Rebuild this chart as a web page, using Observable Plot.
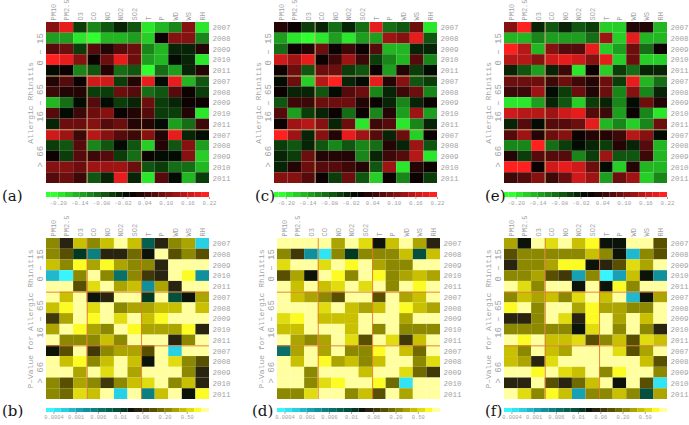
<!DOCTYPE html>
<html><head><meta charset="utf-8">
<script src="https://cdn.jsdelivr.net/npm/d3@7"></script>
<script src="https://cdn.jsdelivr.net/npm/@observablehq/plot@0.6"></script>
<style>
body{margin:0;background:#fff;}
#root{position:relative;width:689px;height:425px;overflow:hidden;background:#fff;}
.blk{position:absolute;}
.tag{position:absolute;font-family:"DejaVu Serif","Liberation Serif",serif;font-size:15px;line-height:1;color:#151515;}
</style></head><body><div id="root"></div>
<script>
// ---------- categories & tick labels ----------
const variables = ["PM10","PM2.5","O3","CO","NO","NO2","SO2","T","P","WD","WS","RH"];
const columnGroupStarts = ["CO","T"];
const ageGroups = ["0 \u2013 15","16 \u2013 65","> 66"];
const years = ["2007","2008","2009","2010","2011"];
const corrTicks = [-0.20,-0.14,-0.08,-0.02,0.04,0.10,0.16,0.22];
const pTickLabels = ["0.0004","0.001","0.006","0.01","0.06","0.20","0.50"];
const panelTags = ["(a)","(b)","(c)","(d)","(e)","(f)"];

// ---------- correlation values (rows: age group x year, cols: variables) ----------
const corrA = [
[0.11,0.19,-0.06,-0.12,-0.07,-0.04,-0.07,-0.20,-0.15,-0.12,0.10,-0.19],
[-0.13,-0.14,-0.20,-0.21,-0.15,-0.15,-0.13,-0.18,0.00,0.10,0.10,-0.12],
[0.07,0.09,-0.05,0.07,0.03,0.07,0.09,-0.12,-0.15,-0.04,-0.04,0.02],
[0.21,0.19,0.10,0.01,0.09,0.18,0.09,-0.14,-0.15,-0.02,-0.04,-0.20],
[-0.02,0.01,-0.12,-0.07,0.02,-0.10,-0.07,-0.21,-0.09,-0.14,-0.03,0.02],
[0.03,0.06,0.01,0.16,0.16,-0.05,0.03,0.19,-0.02,0.19,-0.15,-0.08],
[0.05,0.03,0.03,-0.06,-0.05,0.09,0.07,-0.09,-0.07,0.06,0.01,-0.06],
[-0.15,-0.09,-0.02,0.07,-0.02,-0.06,-0.03,0.08,-0.06,-0.04,0.01,0.01],
[0.07,-0.02,0.04,0.08,0.10,0.01,0.03,0.07,-0.06,-0.06,0.03,-0.19],
[-0.03,0.09,0.09,0.10,0.07,0.09,0.02,0.03,-0.02,-0.14,-0.09,0.04],
[0.17,0.12,0.04,0.14,0.10,0.06,0.05,0.11,0.03,0.19,-0.04,-0.01],
[-0.05,-0.07,0.06,-0.12,-0.08,-0.02,-0.07,-0.18,0.03,-0.07,0.10,-0.13],
[0.01,-0.05,0.07,0.04,0.06,-0.05,-0.10,0.01,-0.02,-0.02,0.11,-0.17],
[0.10,0.11,0.08,0.12,0.13,0.12,0.08,-0.07,-0.06,-0.09,-0.10,-0.16],
[0.06,0.08,0.05,-0.07,-0.03,0.19,-0.04,-0.20,0.06,-0.02,-0.16,-0.05]
];
const corrC = [
[0.03,0.01,-0.06,-0.03,-0.10,-0.04,-0.10,0.19,-0.10,-0.07,0.09,-0.20],
[-0.14,-0.20,-0.21,-0.19,-0.14,-0.19,-0.14,-0.14,0.12,0.10,0.19,-0.08],
[-0.09,0.01,0.03,0.08,0.01,0.05,0.01,0.07,-0.15,-0.15,-0.03,-0.03],
[0.17,0.12,0.19,0.01,0.05,0.13,0.05,-0.06,-0.11,-0.15,0.06,-0.12],
[0.01,0.08,-0.08,0.09,0.08,-0.06,-0.08,0.01,-0.14,0.02,-0.06,-0.02],
[-0.02,0.09,-0.17,0.15,0.20,-0.04,-0.02,0.19,0.03,0.10,-0.08,-0.05],
[0.01,-0.03,-0.03,-0.07,-0.02,0.07,0.09,-0.12,-0.04,0.05,0.08,-0.11],
[-0.07,0.05,0.04,0.08,0.09,0.08,0.03,0.01,-0.03,-0.12,-0.03,0.01],
[0.07,-0.13,-0.05,-0.03,0.01,-0.10,0.01,-0.11,0.02,-0.14,0.13,-0.13],
[0.01,0.12,0.14,0.10,-0.03,0.09,-0.19,0.04,0.06,-0.20,-0.11,-0.03],
[0.21,0.13,-0.03,0.10,0.03,0.19,0.12,0.06,-0.03,0.09,-0.18,0.01],
[-0.05,-0.08,-0.03,-0.07,-0.11,-0.07,-0.12,-0.09,0.03,-0.04,0.13,-0.08],
[-0.04,-0.05,0.08,0.03,0.02,0.02,-0.11,-0.03,0.04,0.07,0.15,-0.19],
[-0.04,0.02,0.09,0.06,0.06,0.05,0.03,-0.07,0.12,-0.20,0.02,0.01],
[0.11,0.11,0.07,0.01,-0.05,0.09,-0.08,-0.17,0.01,-0.11,0.01,-0.05]
];
const corrE = [
[0.10,0.20,-0.03,-0.07,-0.04,-0.08,-0.06,-0.18,-0.18,0.02,0.03,-0.15],
[-0.15,-0.15,-0.12,-0.14,-0.13,-0.14,-0.09,0.13,-0.18,0.19,-0.15,-0.15],
[0.20,0.15,-0.15,0.10,0.06,0.06,0.19,-0.18,-0.14,0.08,-0.09,0.01],
[0.14,0.14,0.10,0.16,0.18,0.17,0.11,0.19,-0.18,0.08,-0.18,-0.17],
[-0.04,-0.08,-0.14,-0.03,0.04,-0.20,0.01,-0.17,-0.06,-0.10,-0.04,-0.04],
[0.09,0.08,0.08,0.04,0.09,0.04,0.03,0.08,-0.05,0.19,-0.16,-0.09],
[0.04,0.05,0.12,-0.01,-0.05,0.08,0.03,0.08,-0.11,0.10,-0.12,-0.04],
[-0.19,-0.19,-0.14,-0.04,-0.08,-0.18,-0.06,-0.04,-0.11,-0.01,0.09,0.03],
[0.16,0.15,0.15,0.12,0.16,0.18,0.07,0.04,-0.13,0.01,-0.12,-0.19],
[-0.03,0.07,-0.01,0.07,0.07,0.08,0.18,-0.15,-0.11,-0.18,-0.11,0.08],
[0.07,0.12,0.03,0.08,0.10,0.01,0.03,0.03,0.05,0.14,0.10,-0.02],
[-0.11,-0.12,0.20,-0.09,-0.05,-0.02,-0.04,-0.06,0.03,-0.03,0.07,-0.16],
[0.02,-0.05,0.06,0.07,0.07,-0.11,-0.06,0.12,-0.08,-0.07,0.04,-0.15],
[0.20,0.20,0.01,0.16,0.18,0.16,0.08,-0.02,-0.18,0.03,-0.15,-0.15],
[0.04,0.06,0.10,0.05,0.09,0.17,0.13,-0.14,0.08,0.12,-0.18,-0.11]
];

// ---------- p-values ----------
const pB = [
[0.2,0.04,0.4,0.22,0.45,0.9,0.4,0.007,0.04,0.2,0.3,0.0006],
[0.22,0.1,0.01,0.005,0.04,0.04,0.18,0.02,0.9,0.12,0.2,0.12],
[0.4,0.22,0.65,0.3,0.65,0.3,0.25,0.2,0.04,0.9,0.9,0.9],
[0.0008,0.0003,0.2,0.9,0.22,0.006,0.2,0.06,0.04,0.85,0.65,0.002],
[0.9,0.9,0.1,0.5,0.85,0.3,0.4,0.003,0.3,0.05,0.9,0.9],
[0.9,0.4,0.9,0.02,0.04,0.85,0.85,0.01,0.85,0.009,0.02,0.3],
[0.4,0.65,0.9,0.5,0.9,0.22,0.3,0.3,0.4,0.45,0.85,0.4],
[0.06,0.3,0.9,0.65,0.9,0.5,0.9,0.4,0.65,0.9,0.9,0.9],
[0.3,0.9,0.65,0.3,0.22,0.85,0.65,0.3,0.3,0.3,0.65,0.04],
[0.9,0.2,0.2,0.2,0.45,0.28,0.9,0.85,0.85,0.04,0.2,0.9],
[0.02,0.1,0.9,0.08,0.2,0.3,0.3,0.1,0.9,0.0006,0.9,0.9],
[0.9,0.4,0.65,0.22,0.4,0.85,0.4,0.02,0.85,0.5,0.2,0.1],
[0.9,0.9,0.3,0.9,0.5,0.85,0.3,0.9,0.9,0.9,0.2,0.05],
[0.2,0.12,0.3,0.2,0.07,0.22,0.4,0.5,0.85,0.25,0.4,0.05],
[0.2,0.18,0.5,0.45,0.85,0.0007,0.9,0.005,0.4,0.85,0.02,0.65]
];
const pD = [
[0.9,0.9,0.9,0.85,0.3,0.9,0.5,0.02,0.45,0.85,0.3,0.04],
[0.2,0.08,0.002,0.0005,0.2,0.015,0.2,0.22,0.2,0.4,0.009,0.4],
[0.5,0.9,0.9,0.5,0.9,0.65,0.9,0.3,0.22,0.2,0.9,0.9],
[0.12,0.3,0.03,0.9,0.65,0.22,0.9,0.65,0.28,0.3,0.4,0.3],
[0.9,0.45,0.9,0.45,0.5,0.9,0.5,0.9,0.2,0.9,0.65,0.9],
[0.9,0.4,0.3,0.2,0.12,0.9,0.9,0.12,0.9,0.3,0.45,0.9],
[0.9,0.9,0.9,0.5,0.9,0.45,0.3,0.4,0.9,0.65,0.4,0.3],
[0.5,0.65,0.9,0.45,0.45,0.4,0.9,0.9,0.9,0.3,0.9,0.9],
[0.4,0.4,0.9,0.9,0.9,0.45,0.9,0.22,0.9,0.2,0.2,0.2],
[0.9,0.3,0.2,0.3,0.9,0.5,0.1,0.9,0.5,0.06,0.4,0.9],
[0.006,0.3,0.9,0.3,0.9,0.2,0.28,0.65,0.9,0.45,0.15,0.9],
[0.9,0.4,0.9,0.65,0.3,0.45,0.22,0.4,0.9,0.9,0.2,0.5],
[0.9,0.9,0.22,0.9,0.9,0.9,0.4,0.9,0.9,0.5,0.15,0.06],
[0.9,0.9,0.22,0.5,0.65,0.9,0.9,0.65,0.18,0.0004,0.9,0.9],
[0.22,0.22,0.5,0.9,0.9,0.22,0.4,0.1,0.9,0.3,0.9,0.9]
];
const pF = [
[0.3,0.02,0.9,0.5,0.9,0.45,0.65,0.02,0.02,0.9,0.9,0.1],
[0.12,0.2,0.2,0.2,0.2,0.2,0.4,0.2,0.02,0.0008,0.2,0.1],
[0.04,0.2,0.2,0.3,0.65,0.65,0.03,0.04,0.1,0.5,0.3,0.9],
[0.2,0.2,0.3,0.12,0.06,0.001,0.2,0.0003,0.001,0.4,0.03,0.002],
[0.9,0.5,0.22,0.9,0.9,0.03,0.9,0.03,0.65,0.22,0.9,0.9],
[0.22,0.45,0.3,0.45,0.22,0.5,0.85,0.4,0.9,0.0008,0.03,0.3],
[0.65,0.9,0.22,0.9,0.9,0.3,0.65,0.3,0.3,0.25,0.25,0.9],
[0.04,0.04,0.22,0.9,0.5,0.04,0.65,0.9,0.3,0.9,0.4,0.9],
[0.2,0.2,0.2,0.22,0.2,0.03,0.5,0.9,0.2,0.9,0.22,0.05],
[0.9,0.65,0.9,0.45,0.4,0.5,0.1,0.22,0.4,0.12,0.5,0.4],
[0.45,0.22,0.9,0.45,0.3,0.9,0.9,0.9,0.5,0.1,0.3,0.9],
[0.45,0.3,0.04,0.5,0.9,0.9,0.9,0.9,0.9,0.9,0.45,0.1],
[0.9,0.9,0.65,0.9,0.5,0.4,0.9,0.2,0.65,0.9,0.9,0.22],
[0.05,0.05,0.9,0.1,0.04,0.18,0.45,0.9,0.02,0.9,0.1,0.0005],
[0.9,0.5,0.22,0.65,0.45,0.001,0.22,0.22,0.4,0.2,0.008,0.3]
];

// ---------- colour scales (discrete levels, as in the original colour bars) ----------
const corrDomain = [-0.2325, 0.22];
const corrThresholds = d3.range(-11, 11).map(k => +(k * 0.02).toFixed(2));
const corrRamp = d3.scaleLinear().domain([-0.21, 0, 0.21]).range(["#30ff30", "#000000", "#ff2020"]).clamp(true);
const corrEdges = [corrDomain[0], ...corrThresholds, corrDomain[1]];
const corrColors = corrEdges.slice(1).map((e, k) => corrRamp((e + corrEdges[k]) / 2));

const pThresholds = [0.0004,0.0006,0.0008,0.001,0.002,0.004,0.006,0.007,0.008,0.01,0.02,0.04,0.06,0.1,0.15,0.2,0.3,0.4,0.5,0.6,0.8];
const pColors = ["#38f4ff","#30e4f4","#28d0e4","#20b8cc","#18a0b4","#10909c","#0c8080","#087068","#066050","#04503c","#023824",
                 "#0c140a","#282410","#403808","#585000","#706a00","#8c8800","#aca400","#c8c000","#e0dc10","#fcfc24","#ffffa0"];

const FONT = "'Liberation Mono','DejaVu Sans Mono',monospace";
const GREY = "#a2a2a2";
const HEAT_W = 230, ML = 46, MR = 21, HEAT_H = 161;

function heatPlot(matrix, color, sepColor, mTop, yLabel) {
  const cells = [];
  matrix.forEach((row, i) => row.forEach((v, j) => cells.push({i, j, v})));
  const nR = matrix.length, nC = variables.length;
  return Plot.plot({
    width: HEAT_W, height: mTop + HEAT_H + 2,
    marginTop: mTop, marginBottom: 2, marginLeft: ML, marginRight: MR,
    x: {domain: [0, nC], axis: null},
    y: {domain: [nR, 0], axis: null},
    color,
    style: {fontFamily: FONT, fontSize: "7px", color: GREY, background: "transparent", overflow: "visible"},
    marks: [
      Plot.rect(cells, {x1: "j", x2: d => d.j + 1, y1: "i", y2: d => d.i + 1, fill: "v"}),
      Plot.ruleX(columnGroupStarts.map(c => variables.indexOf(c)), {stroke: sepColor, strokeWidth: 1, strokeOpacity: 0.9}),
      Plot.ruleY(d3.range(1, ageGroups.length).map(k => k * years.length), {stroke: sepColor, strokeWidth: 1, strokeOpacity: 0.9}),
      Plot.axisX({anchor: "top", label: null, ticks: d3.range(nC).map(j => j + 0.5), tickFormat: d => variables[Math.floor(d)],
                  tickRotate: -90, tickSize: 0, tickPadding: 2, fontSize: 7, fill: GREY}),
      Plot.axisY({anchor: "right", label: null, ticks: d3.range(nR).map(i => i + 0.5), tickFormat: d => years[Math.floor(d) % years.length],
                  tickSize: 0, tickPadding: 3, fontSize: 7.5, fill: GREY}),
      Plot.text(ageGroups, {frameAnchor: "left", textAnchor: "middle", y: (d, k) => (k + 0.5) * years.length, rotate: -90, dx: -6,
                            fontSize: 9, fill: GREY}),
      Plot.text([yLabel], {frameAnchor: "left", textAnchor: "middle", y: () => nR / 2, rotate: -90, dx: -16, fontSize: 8, fill: GREY})
    ]
  });
}

function corrBar() {
  const boxes = corrColors.map((c, k) => ({x1: corrEdges[k], x2: corrEdges[k + 1], c}));
  return Plot.plot({
    width: HEAT_W, height: 20, marginTop: 2, marginBottom: 13, marginLeft: ML, marginRight: MR,
    x: {domain: corrDomain, axis: null}, color: {type: "identity"},
    style: {fontFamily: FONT, fontSize: "6px", color: GREY, background: "transparent", overflow: "visible"},
    marks: [
      Plot.rect(boxes, {x1: "x1", x2: "x2", fill: "c"}),
      Plot.axisX({anchor: "bottom", label: null, ticks: corrTicks, tickFormat: d => d.toFixed(2), tickSize: 2, tickPadding: 1, fontSize: 5.8, fill: GREY, stroke: GREY})
    ]
  });
}

function pBar() {
  const boxes = pColors.map((c, k) => ({x1: k, x2: k + 1, c}));
  const tickPos = pTickLabels.map(l => pThresholds.indexOf(+l) + 1);
  return Plot.plot({
    width: HEAT_W, height: 19, marginTop: 2, marginBottom: 13, marginLeft: ML, marginRight: MR,
    x: {domain: [0, pColors.length], axis: null}, color: {type: "identity"},
    style: {fontFamily: FONT, fontSize: "6px", color: GREY, background: "transparent", overflow: "visible"},
    marks: [
      Plot.rect(boxes, {x1: "x1", x2: "x2", fill: "c"}),
      Plot.axisX({anchor: "bottom", label: null, ticks: tickPos, tickFormat: d => pTickLabels[tickPos.indexOf(d)], tickSize: 2, tickPadding: 1, fontSize: 5.4, fill: GREY, stroke: GREY})
    ]
  });
}

const root = document.getElementById("root");
function place(node, left, top) {
  const div = document.createElement("div");
  div.className = "blk";
  div.style.left = left + "px"; div.style.top = top + "px";
  div.appendChild(node);
  root.appendChild(div);
}
function tag(text, left, top) {
  const div = document.createElement("div");
  div.className = "tag"; div.textContent = text;
  div.style.left = left + "px"; div.style.top = top + "px";
  root.appendChild(div);
}

const corrColor = {type: "threshold", domain: corrThresholds, range: corrColors};
const pColor = {type: "threshold", domain: pThresholds, range: pColors};

const topPanels = [corrA, corrC, corrE];
const botPanels = [pB, pD, pF];
const topX = [0, 228, 458];
const botX = [0, 231, 458];
const tagTopX = [2, 255, 485];
const tagBotX = [2, 252, 485];

topPanels.forEach((m, k) => {
  place(heatPlot(m, corrColor, "#c8a870", 22, "Allergic Rhinitis"), topX[k], 0);
  place(corrBar(), topX[k], 190);
  tag(panelTags[2 * k], tagTopX[k], 189);
});
botPanels.forEach((m, k) => {
  place(heatPlot(m, pColor, "#e07a30", 26, "P\u2013Value for Allergic Rhinitis"), botX[k], 212);
  place(pBar(), botX[k], 406);
  tag(panelTags[2 * k + 1], tagBotX[k], 404);
});
</script>
</body></html>
